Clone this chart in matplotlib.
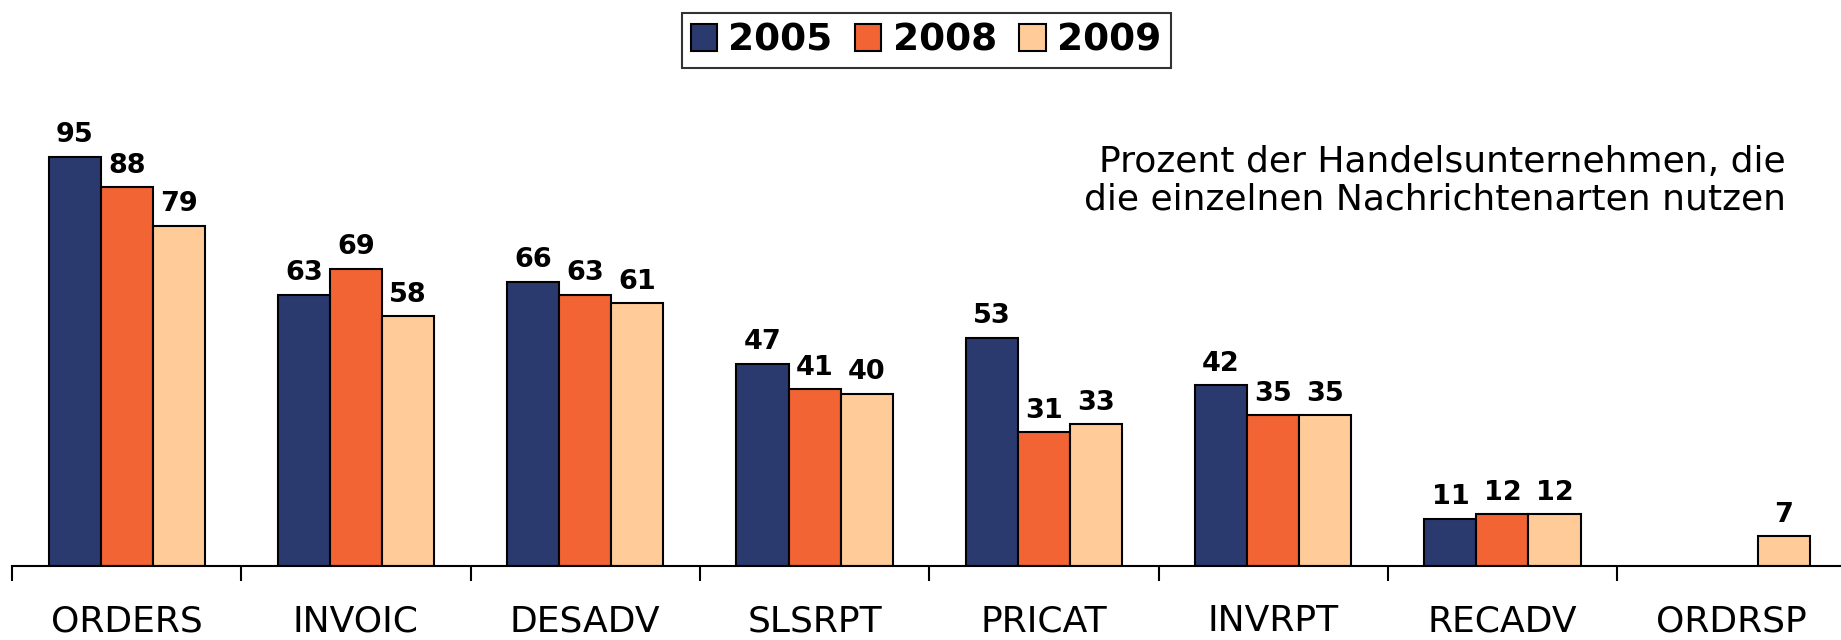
import numpy as np
import matplotlib.pyplot as plt
from matplotlib.patches import Patch

categories = ['ORDERS', 'INVOIC', 'DESADV', 'SLSRPT', 'PRICAT', 'INVRPT', 'RECADV', 'ORDRSP']
years = ['2005', '2008', '2009']
v2005 = [95, 63, 66, 47, 53, 42, 11, None]
v2008 = [88, 69, 63, 41, 31, 35, 12, None]
v2009 = [79, 58, 61, 40, 33, 35, 12, 7]
note = 'Prozent der Handelsunternehmen, die\ndie einzelnen Nachrichtenarten nutzen'

colors = ['#2B3A6E', '#F26434', '#FFCC99']
series = [v2005, v2008, v2009]

fig = plt.figure(figsize=(18.41, 6.40), dpi=100)
W, H = 1841.0, 640.0
ax = fig.add_axes([12 / W, 1 - 566 / H, 8 * 229.3 / W, 566 / H])

x = np.arange(len(categories))
bw = 0.227
for k, (vals, c) in enumerate(zip(series, colors)):
    xs = [xi + (k - 1) * bw for xi, v in zip(x, vals) if v is not None]
    hs = [v for v in vals if v is not None]
    bars = ax.bar(xs, hs, width=bw, color=c, edgecolor='black', linewidth=1.5, zorder=2)
    for b, v in zip(bars, hs):
        ax.annotate(str(v), (b.get_x() + b.get_width() / 2, b.get_height()),
                    xytext=(0, 6), textcoords='offset points', ha='center', va='bottom',
                    fontsize=19.5, fontweight='bold', color='black')

ax.set_xlim(-0.5, len(categories) - 0.5)
ax.set_ylim(0, 131.4)
for s in ['left', 'top', 'right']:
    ax.spines[s].set_visible(False)
ax.spines['bottom'].set_linewidth(1.5)
ax.set_yticks([])

ax.set_xticks(np.arange(len(categories) + 1) - 0.5)
ax.set_xticklabels([])
ax.tick_params(axis='x', which='major', length=11, width=1.5, direction='out')
ax.set_xticks(x, minor=True)
ax.set_xticklabels(categories, minor=True, fontsize=26)
ax.tick_params(axis='x', which='minor', length=0, pad=27.5)

fig.text(1786 / W, 1 - 145 / H, note, ha='right', va='top', fontsize=26,
         multialignment='right', linespacing=1.14)

handles = [Patch(facecolor=c, edgecolor='black', linewidth=1.5) for c in colors]
leg = fig.legend(handles, years, loc='center', bbox_to_anchor=(926 / W, 1 - 40.5 / H),
                 ncol=3, frameon=True, fancybox=False, edgecolor='black',
                 prop={'size': 27, 'weight': 'bold'}, handlelength=0.7, handleheight=0.7,
                 handletextpad=0.3, columnspacing=0.6, borderpad=0.25, borderaxespad=0)
leg.get_frame().set_linewidth(1.5)

fig.savefig('out.png', dpi=100)
